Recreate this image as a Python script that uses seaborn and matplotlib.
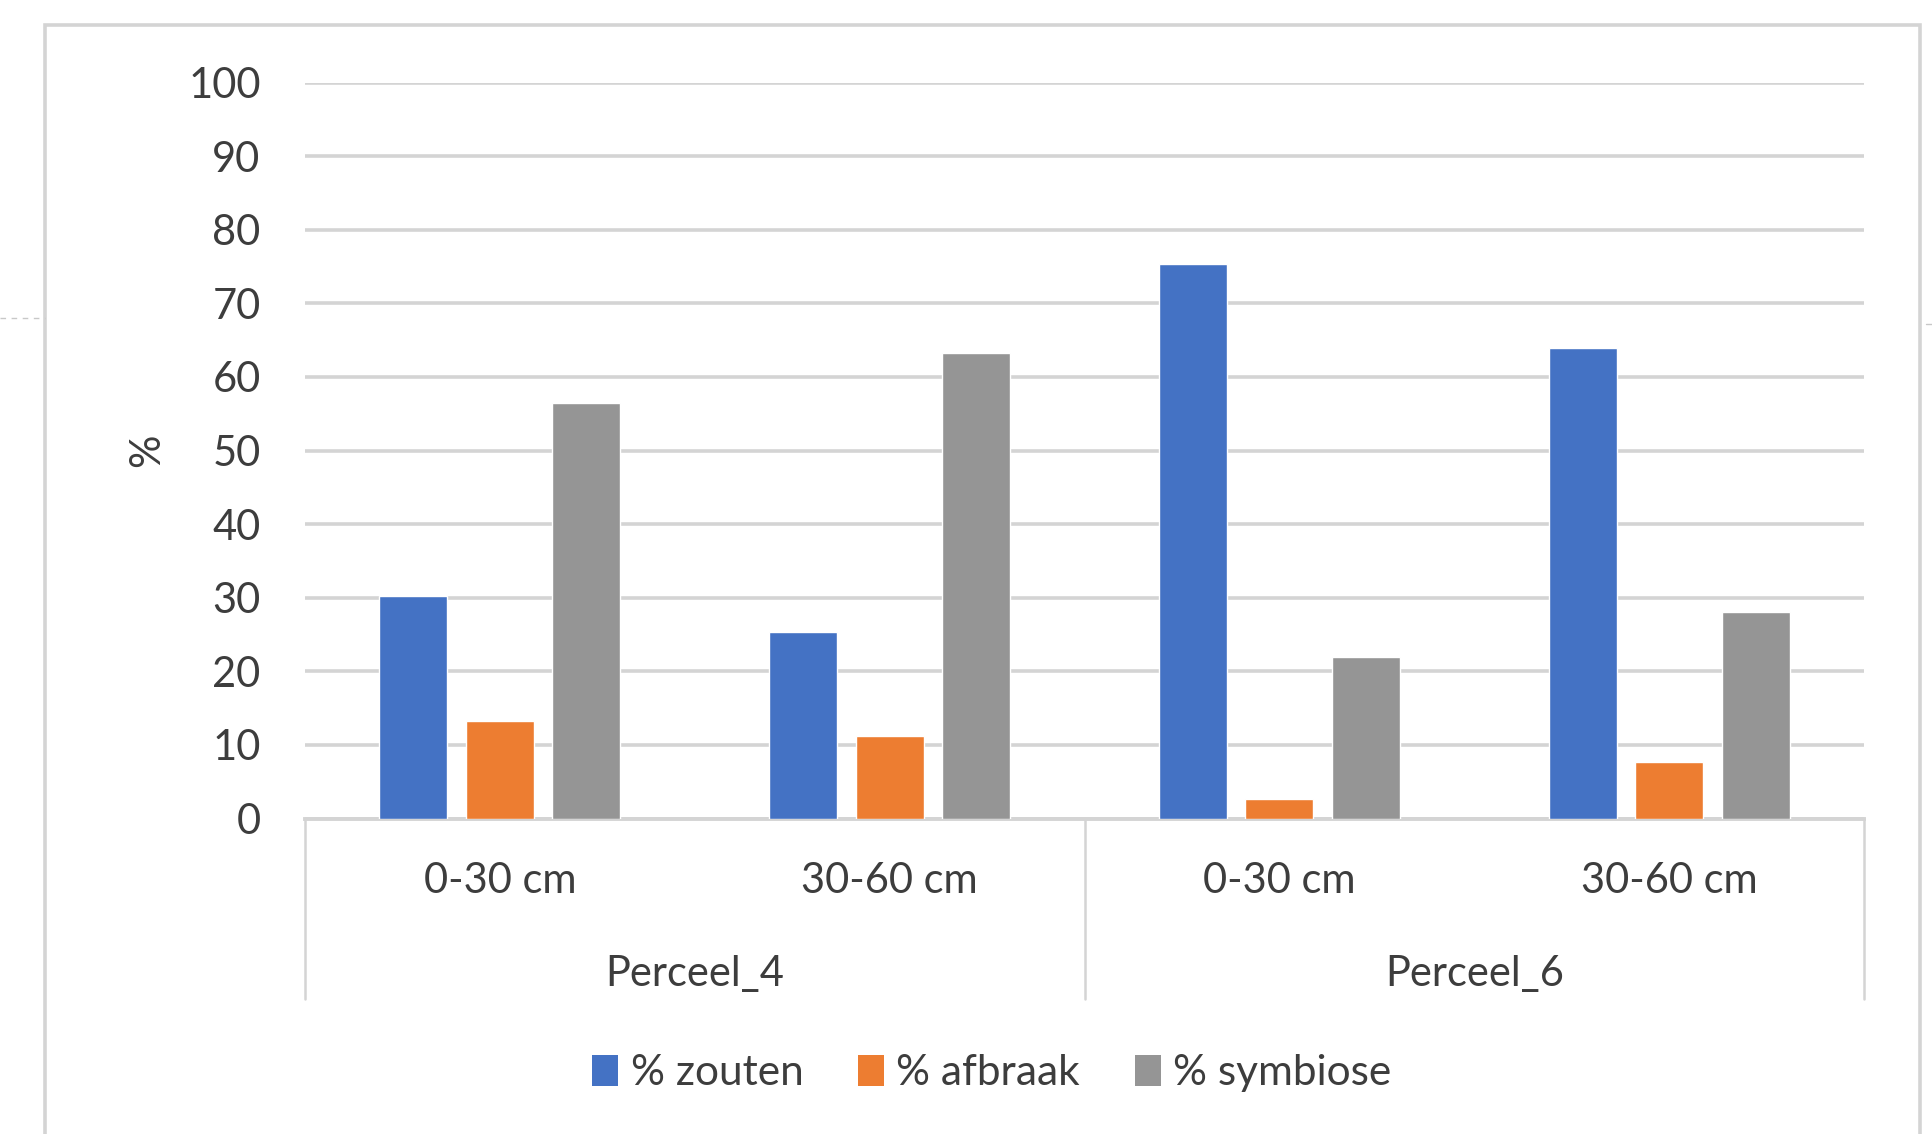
import matplotlib
matplotlib.use("Agg")
import matplotlib.pyplot as plt
import matplotlib.patches as mpatches
import matplotlib.lines as mlines
import matplotlib.transforms as mtransforms
import seaborn as sns
import pandas as pd

# Data
perceel = ["Perceel_4", "Perceel_4", "Perceel_6", "Perceel_6"]
depth = ["0-30 cm", "30-60 cm", "0-30 cm", "30-60 cm"]
zouten = [30.2, 25.4, 75.3, 64.0]
afbraak = [13.2, 11.2, 2.7, 7.7]
symbiose = [56.5, 63.2, 22.0, 28.0]
series_names = ["% zouten", "% afbraak", "% symbiose"]
series_colors = ["#4472C4", "#ED7D31", "#959595"]

keys = [f"{p}|{d}" for p, d in zip(perceel, depth)]
rows = []
for name, vals in zip(series_names, [zouten, afbraak, symbiose]):
    for k, v in zip(keys, vals):
        rows.append({"cat": k, "serie": name, "val": v})
df = pd.DataFrame(rows)

sns.set_theme(style="white")
plt.rcParams["font.family"] = ["Lato", "DejaVu Sans"]
text_color = "#3d3d3d"
grid_color = "#D4D4D4"

W, H = 1933, 1134
fig = plt.figure(figsize=(W / 100, H / 100), dpi=100)
ax_left, ax_right = 305 / W, 1864 / W
ax_bottom, ax_top = 1 - 818.5 / H, 1 - 82.6 / H
ax = fig.add_axes([ax_left, ax_bottom, ax_right - ax_left, ax_top - ax_bottom])

sns.barplot(data=df, x="cat", y="val", hue="serie", order=keys,
            hue_order=series_names, palette=series_colors, width=0.665,
            gap=0.213, saturation=1, legend=False, ax=ax, zorder=3)

ax.set_ylim(0, 100)
ax.set_xlim(-0.5, len(keys) - 0.5)
ax.set_yticks(range(0, 101, 10))
ax.tick_params(axis="y", length=0, pad=32, labelsize=30, labelcolor=text_color)
ax.set_xticks([])
ax.set_xlabel("")
ax.set_ylabel("%", fontsize=30, color=text_color)
ax.yaxis.set_label_coords(-0.089, 0.5)
ax.grid(axis="y", color=grid_color, linewidth=2.6, zorder=0)
ax.set_axisbelow(True)
for s in ["top", "right", "left"]:
    ax.spines[s].set_visible(False)
ax.spines["bottom"].set_color(grid_color)
ax.spines["bottom"].set_linewidth(2.8)

# Two-level category axis
trans = mtransforms.blended_transform_factory(ax.transData, ax.transAxes)
for i, d in enumerate(depth):
    ax.text(i, -0.0855, d, transform=trans, ha="center", va="center",
            fontsize=30, color=text_color)
groups = []
for i, p in enumerate(perceel):
    if not groups or groups[-1][0] != p:
        groups.append([p, i, i])
    else:
        groups[-1][2] = i
sep_bottom = (818.5 - 998.6) / (818.5 - 82.6)
for p, i0, i1 in groups:
    ax.text((i0 + i1) / 2, -0.211, p, transform=trans, ha="center",
            va="center", fontsize=30, color=text_color)
for xb in [-0.5, 1.5, 3.5]:
    ax.plot([xb, xb], [0, sep_bottom], transform=trans, color=grid_color,
            linewidth=1.8, clip_on=False)

# Legend
handles = [mpatches.Patch(facecolor=c, edgecolor="none", label=n)
           for n, c in zip(series_names, series_colors)]
leg = fig.legend(handles=handles, loc="center", bbox_to_anchor=(992 / W, 1 - 1073 / H),
                 ncol=3, frameon=False, fontsize=30.5, handlelength=0.6,
                 handleheight=0.75, handletextpad=0.3, columnspacing=1.3)
for t in leg.get_texts():
    t.set_color(text_color)

# Chart frame
fig.add_artist(mpatches.Rectangle((45 / W, -0.05), (1920 - 45) / W, 1.05 - 25 / H,
                                  transform=fig.transFigure, fill=False,
                                  edgecolor=grid_color, linewidth=2.6))
fig.add_artist(mlines.Line2D([0, 45 / W], [1 - 318 / H, 1 - 318 / H],
                             transform=fig.transFigure, color="#C8C8C8",
                             linewidth=1.0, linestyle=(0, (4, 4))))
fig.add_artist(mlines.Line2D([1926 / W, 1], [1 - 324 / H, 1 - 324 / H],
                             transform=fig.transFigure, color="#C8C8C8",
                             linewidth=1.0))

fig.savefig("out.png", dpi=100)
